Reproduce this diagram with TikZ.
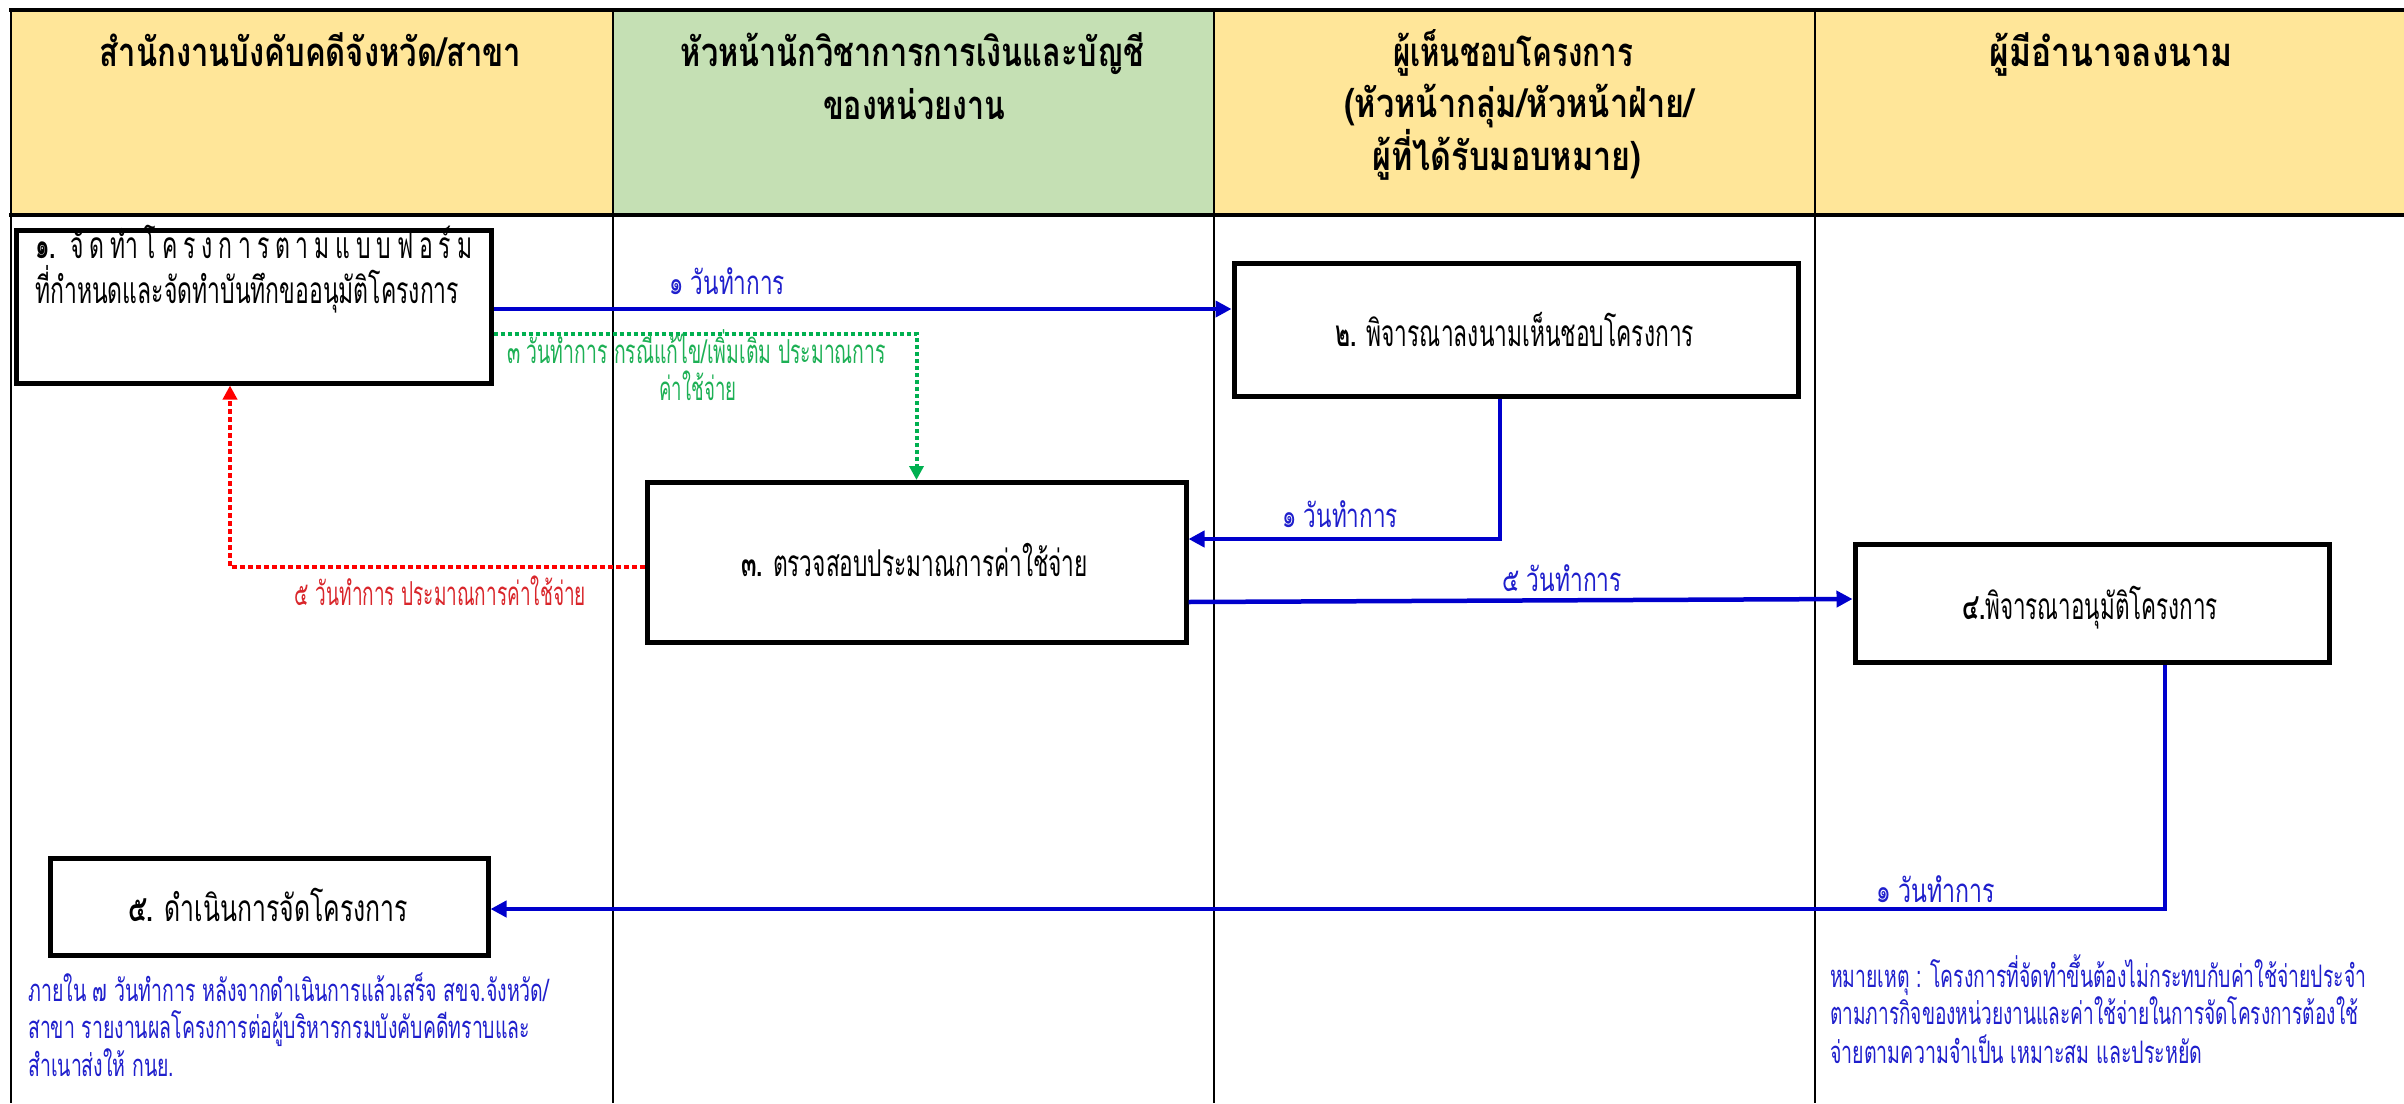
\documentclass[tikz,border=0pt]{standalone}
\usepackage{fontspec}
\usepackage{graphicx}
\newfontfamily\thai[Script=Thai]{Loma}
\usetikzlibrary{arrows.meta}
\definecolor{hdryellow}{HTML}{FFE699}
\definecolor{hdrgreen}{HTML}{C5E0B4}
\definecolor{flowblue}{HTML}{0000CC}
\definecolor{flowgreen}{HTML}{00B050}
\definecolor{flowred}{HTML}{FF0000}
\definecolor{lblblue}{HTML}{1F1FCC}
\definecolor{lblgreen}{HTML}{1DB055}
\definecolor{lblred}{HTML}{D9262B}
\newcommand\fw[2]{\resizebox{#1}{\height}{#2}}
\newlength\Lw
\newsavebox\lineonebox
\tikzset{
  procbox/.style={draw=black, line width=5pt, fill=white, inner sep=0pt},
  hdrtext/.style={font=\thai\bfseries\fontsize{40}{44}\selectfont, anchor=base, inner sep=0pt},
  boxtext/.style={font=\thai\fontsize{37}{42}\selectfont, anchor=base, inner sep=0pt},
  lbl/.style={font=\thai\fontsize{33}{36}\selectfont, anchor=base, inner sep=0pt},
  notetext/.style={font=\thai\fontsize{31}{34}\selectfont, anchor=base west, inner sep=0pt, text=lblblue},
  blueflow/.style={draw=flowblue, line width=4.5pt, -{Triangle[length=16pt,width=16pt]}},
  greenflow/.style={draw=flowgreen, line width=4pt, dash pattern=on 4pt off 3pt, -{Triangle[length=14pt,width=14pt]}},
  redflow/.style={draw=flowred, line width=4pt, dash pattern=on 5pt off 3pt, -{Triangle[length=14pt,width=14pt]}},
  gridline/.style={draw=black, line width=2pt},
  hdrline/.style={draw=black, line width=4pt}
}
\begin{document}
\settowidth\Lw{\thai\fontsize{37}{42}\selectfont ที่กำหนดและจัดทำบันทึกขออนุมัติโครงการ}%
\sbox\lineonebox{\thai\fontsize{37}{42}\selectfont\makebox[1.0307\Lw][s]{\textbf{๑.}\hspace{0.35em}\hfill จั\hfill ด\hfill ทำ\hfill โ\hfill ค\hfill ร\hfill ง\hfill ก\hfill า\hfill ร\hfill ต\hfill า\hfill ม\hfill แ\hfill บ\hfill บ\hfill ฟ\hfill อ\hfill ร์\hfill ม}}%
\begin{tikzpicture}[x=1pt,y=-1pt]
\useasboundingbox (0,0) rectangle (2404,1103);
% header fills
\fill[hdryellow] (11,10) rectangle (2404,215);
\fill[hdrgreen] (613,10) rectangle (1214,215);
% grid
\draw[gridline] (11,10) -- (11,1103);
\draw[gridline] (613,10) -- (613,1103);
\draw[gridline] (1214,10) -- (1214,1103);
\draw[gridline] (1815,10) -- (1815,1103);
\draw[hdrline] (9,10) -- (2404,10);
\draw[hdrline] (9,215) -- (2404,215);
% header texts
\node[hdrtext] (h1) at (310.5,66) {\fw{421pt}{สำนักงานบังคับคดีจังหวัด/สาขา}};
\node[hdrtext] (h2a) at (912.5,66) {\fw{463pt}{หัวหน้านักวิชาการการเงินและบัญชี}};
\node[hdrtext] (h2b) at (914,119) {\fw{182pt}{ของหน่วยงาน}};
\node[hdrtext] (h3a) at (1513,66) {\fw{240pt}{ผู้เห็นชอบโครงการ}};
\node[hdrtext] (h3b) at (1519,117) {\fw{350pt}{(หัวหน้ากลุ่ม/หัวหน้าฝ่าย/}};
\node[hdrtext] (h3c) at (1507,170) {\fw{269pt}{ผู้ที่ได้รับมอบหมาย)}};
\node[hdrtext] (h4) at (2111,66) {\fw{243pt}{ผู้มีอำนาจลงนาม}};
% boxes
\node[procbox, minimum width=474.5pt, minimum height=153pt] (box1) at (253.75,306.5) {};
\node[procbox, minimum width=564pt, minimum height=133pt] (box2) at (1516,329.5) {};
\node[procbox, minimum width=539pt, minimum height=160pt] (box3) at (916.5,562.5) {};
\node[procbox, minimum width=474pt, minimum height=118pt] (box4) at (2092,603.5) {};
\node[procbox, minimum width=438pt, minimum height=97.5pt] (box5) at (269,906.75) {};
% connectors
\draw[blueflow] (box1.east |- 0,309) -- (box2.west |- 0,309);
\draw[greenflow] (box1.east |- 0,334) -| (box3.north);
\draw[blueflow] (box2.south -| 1500,0) |- (box3.east |- 0,539);
\draw[blueflow] (box3.east |- 0,602) -- (box4.west |- 0,599);
\draw[redflow] (box3.west |- 0,567) -| (box1.south -| 230,0);
\draw[blueflow] (box4.south -| 2165,0) |- (box5.east |- 0,909);
% box texts
\node[boxtext, anchor=base west] (t1a) at (35,258) {\fw{437pt}{\usebox\lineonebox}};
\node[boxtext, anchor=base west] (t1b) at (35,303) {\fw{424pt}{ที่กำหนดและจัดทำบันทึกขออนุมัติโครงการ}};
\node[boxtext] (t2) at (1514.5,346) {\fw{359pt}{\textbf{๒.} พิจารณาลงนามเห็นชอบโครงการ}};
\node[boxtext] (t3) at (914.5,576) {\fw{347pt}{\textbf{๓.} ตรวจสอบประมาณการค่าใช้จ่าย}};
\node[boxtext] (t4) at (2090,619) {\fw{256pt}{\textbf{๔.}พิจารณาอนุมัติโครงการ}};
\node[boxtext] (t5) at (268,921) {\fw{280pt}{\textbf{๕.} ดำเนินการจัดโครงการ}};
% connector labels
\node[lbl, text=lblblue] (l12) at (727,294) {\fw{116pt}{๑ วันทำการ}};
\node[lbl, text=lblblue] (l23) at (1340,527) {\fw{116pt}{๑ วันทำการ}};
\node[lbl, text=lblblue] (l34) at (1562,591) {\fw{120pt}{๕ วันทำการ}};
\node[lbl, text=lblblue] (l45) at (1935.5,902) {\fw{119pt}{๑ วันทำการ}};
\node[lbl, text=lblgreen] (lga) at (696.5,363) {\fw{379pt}{๓ วันทำการ กรณีแก้ไข/เพิ่มเติม ประมาณการ}};
\node[lbl, text=lblgreen] (lgb) at (698,400) {\fw{77pt}{ค่าใช้จ่าย}};
\node[lbl, text=lblred] (lr) at (440.5,605) {\fw{291pt}{๕ วันทำการ ประมาณการค่าใช้จ่าย}};
% notes
\node[notetext] (n1a) at (28,1001) {\fw{521pt}{ภายใน ๗ วันทำการ หลังจากดำเนินการแล้วเสร็จ สขจ.จังหวัด/}};
\node[notetext] (n1b) at (28,1038) {\fw{502pt}{สาขา รายงานผลโครงการต่อผู้บริหารกรมบังคับคดีทราบและ}};
\node[notetext] (n1c) at (28,1076) {\fw{146pt}{สำเนาส่งให้ กนย.}};
\node[notetext] (n2a) at (1830,987) {\fw{536pt}{หมายเหตุ : โครงการที่จัดทำขึ้นต้องไม่กระทบกับค่าใช้จ่ายประจำ}};
\node[notetext] (n2b) at (1830,1024) {\fw{528pt}{ตามภารกิจของหน่วยงานและค่าใช้จ่ายในการจัดโครงการต้องใช้}};
\node[notetext] (n2c) at (1830,1063) {\fw{372pt}{จ่ายตามความจำเป็น เหมาะสม และประหยัด}};
\end{tikzpicture}
\end{document}
